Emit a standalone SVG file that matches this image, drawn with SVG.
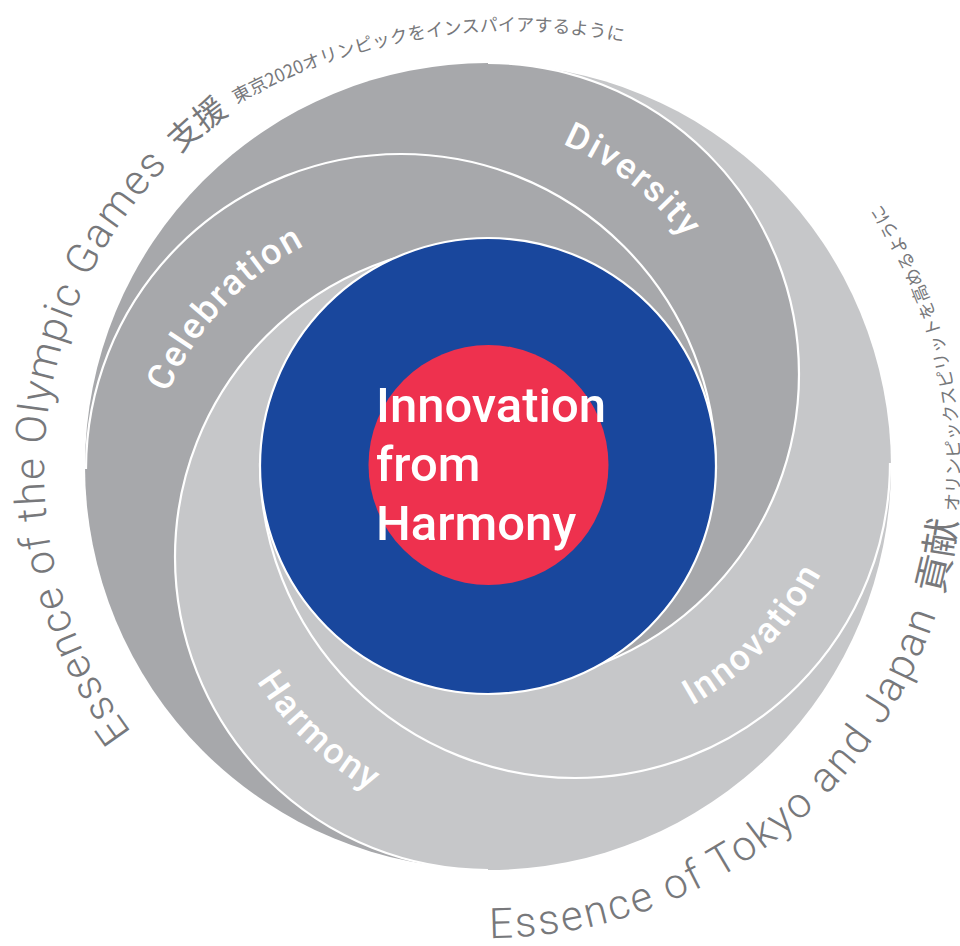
<svg xmlns="http://www.w3.org/2000/svg" width="960" height="946" viewBox="0 0 960 946">
<defs>
<style>
.dk{fill:#a7a8ab}
.lt{fill:#c6c7c9}
.ln{fill:none;stroke:#fff;stroke-width:2.2}
.lbl{font-family:Roboto,"Liberation Sans",sans-serif;font-weight:500;font-size:36px;fill:#fff;letter-spacing:2px}
.ctr{font-family:Roboto,"Liberation Sans",sans-serif;font-weight:500;font-size:49px;fill:#fff}
.en{font-family:Roboto,"Liberation Sans",sans-serif;font-weight:300;font-size:42px;fill:#77787b}
.jb{font-family:"Noto Sans CJK JP",sans-serif;font-weight:400;fill:#77787b}
.js{font-family:"Noto Sans CJK JP",sans-serif;font-weight:400;font-size:18px;fill:#77787b}
</style>
<path id="pL" d="M171.7,778.3 A436,436 0 0 1 330.9,60.3"/>
<path id="pT" d="M151.5,163 A564,564 0 0 1 796,106.6"/>
<path id="pR" d="M406.04,930.83 A472,472 0 0 0 791.4,104.4"/>
<path id="pCel" d="M143.4,497.2 A302,302 0 0 1 408.2,213.2"/>
<path id="pDiv" d="M434.5,120.2 A301,301 0 0 1 739.4,358.4"/>
<path id="pInn" d="M563.7,745.9 A329,329 0 0 0 859.1,443.2"/>
<path id="pHar" d="M209.9,545.4 A323,323 0 0 0 509.6,832.8"/>
</defs>
<rect width="960" height="946" fill="#fff"/>
<g id="rings">
<g id="dark-outer"><path class="dk" d="M488,869 A403,403 0 0 1 488,63 Z"/></g>
<g id="light-outer"><path class="lt" d="M488,64 A403,403 0 0 1 488,870 Z"/></g>
<g id="dark-inner"><path class="dk" d="M488,63 A311,311 0 0 1 488,685 Z"/></g>
<g id="light-inner"><path class="lt" d="M488,870 A313,313 0 0 1 488,244 Z"/></g>
</g>
<g id="dividers">
<path class="ln" d="M488,63 A311,311 0 0 1 488,685"/>
<path class="ln" d="M488,870 A313,313 0 0 1 488,244"/>
<path class="ln" d="M86,469 A315,315 0 0 1 716,469"/>
<path class="ln" d="M890,463 A315,315 0 0 1 260,463"/>
</g>
<g id="core">
<circle cx="488" cy="466" r="228" fill="#19479d" stroke="#fff" stroke-width="2.2"/>
<circle cx="488.5" cy="465" r="120" fill="#ee314e"/>
<text class="ctr" x="376" y="422">Innovation</text>
<text class="ctr" x="376" y="481">from</text>
<text class="ctr" x="376" y="540">Harmony</text>
</g>
<g id="ring-labels">
<text class="lbl" text-anchor="middle"><textPath href="#pCel" startOffset="50%">Celebration</textPath></text>
<text class="lbl" text-anchor="middle"><textPath href="#pDiv" startOffset="50%">Diversity</textPath></text>
<text class="lbl" text-anchor="middle"><textPath href="#pInn" startOffset="50%">Innovation</textPath></text>
<text class="lbl" text-anchor="middle"><textPath href="#pHar" startOffset="50%">Harmony</textPath></text>
</g>
<g id="outer-text">
<text class="en" letter-spacing="1.7"><textPath href="#pL" startOffset="61">Essence of the Olympic Games</textPath></text>
<text class="jb" font-size="32"><textPath href="#pL" startOffset="696">支援</textPath></text>
<text class="js"><textPath href="#pT" startOffset="104">東京2020オリンピックをインスパイアするように</textPath></text>
<text class="en" letter-spacing="2.5"><textPath href="#pR" startOffset="84">Essence of Tokyo and Japan</textPath></text>
<text class="jb" font-size="38"><textPath href="#pR" startOffset="693">貢献</textPath></text>
<text class="js"><textPath href="#pR" startOffset="778">オリンピックスピリットを高めるように</textPath></text>
</g>
</svg>
